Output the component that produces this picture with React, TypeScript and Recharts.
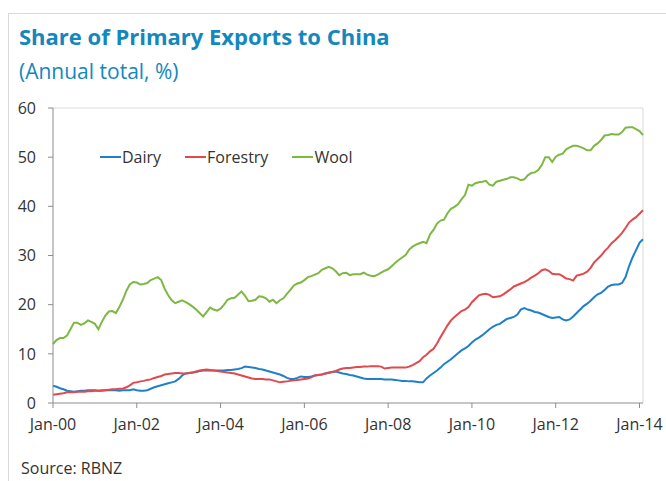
import React from "react";
import { LineChart, Line, XAxis, YAxis, ReferenceLine } from "recharts";

// Share of primary exports to China, annual total (%), monthly Jan-00 .. Feb-14
const dairy = [
  /* 2000 */ 3.5, 3.3, 3.0, 2.8, 2.5, 2.4, 2.3, 2.4, 2.5, 2.5, 2.6, 2.6,
  /* 2001 */ 2.6, 2.5, 2.5, 2.6, 2.6, 2.6, 2.6, 2.5, 2.6, 2.6, 2.6, 2.8,
  /* 2002 */ 2.6, 2.5, 2.5, 2.6, 2.9, 3.2, 3.4, 3.6, 3.8, 4.0, 4.2, 4.4,
  /* 2003 */ 4.9, 5.6, 6.0, 6.1, 6.2, 6.3, 6.5, 6.6, 6.6, 6.6, 6.6, 6.6,
  /* 2004 */ 6.6, 6.6, 6.7, 6.7, 6.8, 6.9, 7.1, 7.4, 7.3, 7.2, 7.1, 6.9,
  /* 2005 */ 6.8, 6.6, 6.4, 6.2, 6.0, 5.8, 5.5, 5.1, 4.9, 4.9, 5.1, 5.4,
  /* 2006 */ 5.3, 5.3, 5.4, 5.6, 5.7, 5.8, 6.0, 6.2, 6.3, 6.4, 6.2, 6.0,
  /* 2007 */ 5.9, 5.7, 5.6, 5.4, 5.2, 5.0, 4.9, 4.9, 4.9, 4.9, 4.9, 4.8,
  /* 2008 */ 4.8, 4.8, 4.7, 4.6, 4.5, 4.5, 4.4, 4.4, 4.3, 4.2, 4.2, 5.0,
  /* 2009 */ 5.6, 6.1, 6.6, 7.2, 7.9, 8.4, 8.9, 9.5, 10.1, 10.7, 11.1, 11.6,
  /* 2010 */ 12.3, 12.9, 13.3, 13.8, 14.4, 15.0, 15.5, 15.9, 16.1, 16.6, 17.1, 17.3,
  /* 2011 */ 17.5, 18.0, 19.0, 19.3, 19.0, 18.8, 18.5, 18.4, 18.1, 17.8, 17.5, 17.3,
  /* 2012 */ 17.4, 17.5, 17.0, 16.8, 17.0, 17.6, 18.3, 19.0, 19.7, 20.2, 20.8, 21.5,
  /* 2013 */ 22.1, 22.4, 23.0, 23.7, 24.0, 24.1, 24.1, 24.4, 25.6, 27.8, 29.6, 31.1,
  /* 2014 */ 32.6, 33.3,
];

const forestry = [
  /* 2000 */ 1.7, 1.8, 1.9, 2.0, 2.2, 2.2, 2.2, 2.3, 2.3, 2.3, 2.4, 2.4,
  /* 2001 */ 2.5, 2.5, 2.6, 2.6, 2.7, 2.8, 2.8, 2.9, 2.9, 3.2, 3.6, 4.1,
  /* 2002 */ 4.2, 4.4, 4.5, 4.7, 4.8, 5.1, 5.3, 5.5, 5.8, 5.9, 6.0, 6.1,
  /* 2003 */ 6.1, 6.0, 6.0, 6.1, 6.2, 6.4, 6.6, 6.7, 6.8, 6.7, 6.6, 6.5,
  /* 2004 */ 6.4, 6.3, 6.2, 6.1, 6.0, 5.8, 5.6, 5.4, 5.2, 5.0, 4.9, 4.9,
  /* 2005 */ 4.9, 4.8, 4.8, 4.6, 4.4, 4.2, 4.3, 4.4, 4.5, 4.6, 4.7, 4.8,
  /* 2006 */ 4.9, 5.0, 5.2, 5.6, 5.7, 5.8, 6.0, 6.1, 6.3, 6.5, 6.8, 7.0,
  /* 2007 */ 7.1, 7.1, 7.2, 7.3, 7.3, 7.4, 7.4, 7.5, 7.5, 7.5, 7.4, 7.0,
  /* 2008 */ 7.1, 7.2, 7.2, 7.2, 7.2, 7.2, 7.4, 7.7, 8.1, 8.5, 9.3, 9.8,
  /* 2009 */ 10.5, 11.0, 12.1, 13.4, 14.6, 15.8, 16.8, 17.5, 18.1, 18.7, 19.0, 19.5,
  /* 2010 */ 20.5, 21.2, 21.9, 22.1, 22.2, 22.0, 21.5, 21.6, 21.7, 22.1, 22.6, 23.1,
  /* 2011 */ 23.7, 24.0, 24.3, 24.6, 25.0, 25.5, 25.9, 26.4, 27.0, 27.2, 26.9, 26.3,
  /* 2012 */ 26.2, 26.2, 25.8, 25.3, 25.2, 24.9, 25.9, 26.1, 26.3, 26.7, 27.5, 28.6,
  /* 2013 */ 29.3, 30.0, 30.9, 31.6, 32.5, 33.1, 33.8, 34.6, 35.6, 36.7, 37.3, 37.8,
  /* 2014 */ 38.5, 39.2,
];

const wool = [
  /* 2000 */ 12.0, 12.8, 13.2, 13.2, 13.7, 15.0, 16.3, 16.3, 15.9, 16.2, 16.8, 16.5,
  /* 2001 */ 16.1, 15.0, 16.5, 17.8, 18.6, 18.7, 18.3, 19.5, 21.0, 22.8, 24.1, 24.6,
  /* 2002 */ 24.5, 24.1, 24.2, 24.4, 25.0, 25.3, 25.6, 25.0, 23.2, 21.9, 20.9, 20.3,
  /* 2003 */ 20.6, 20.9, 20.5, 20.1, 19.6, 19.0, 18.3, 17.6, 18.5, 19.4, 19.0, 18.8,
  /* 2004 */ 19.2, 20.0, 21.0, 21.3, 21.4, 22.0, 22.7, 21.8, 20.7, 20.8, 21.0, 21.7,
  /* 2005 */ 21.6, 21.3, 20.6, 21.0, 20.3, 20.9, 21.3, 22.2, 23.0, 23.9, 24.3, 24.5,
  /* 2006 */ 25.0, 25.6, 25.8, 26.1, 26.4, 27.1, 27.4, 27.7, 27.4, 26.8, 26.0, 26.4,
  /* 2007 */ 26.5, 26.0, 26.2, 26.2, 26.2, 26.5, 26.1, 25.9, 25.8, 26.1, 26.5, 26.9,
  /* 2008 */ 27.2, 27.8, 28.5, 29.1, 29.6, 30.1, 31.2, 31.8, 32.2, 32.5, 32.8, 32.5,
  /* 2009 */ 34.3, 35.2, 36.5, 37.1, 37.3, 38.6, 39.5, 39.9, 40.4, 41.4, 42.3, 44.4,
  /* 2010 */ 44.2, 44.7, 44.9, 45.0, 45.2, 44.4, 44.2, 45.0, 45.2, 45.4, 45.6, 45.9,
  /* 2011 */ 45.9, 45.7, 45.3, 45.5, 46.3, 46.8, 46.9, 47.4, 48.4, 50.0, 50.0, 49.0,
  /* 2012 */ 50.1, 50.5, 50.7, 51.6, 52.0, 52.3, 52.3, 52.1, 51.8, 51.4, 51.4, 52.3,
  /* 2013 */ 52.8, 53.5, 54.4, 54.5, 54.7, 54.6, 54.6, 55.1, 56.0, 56.1, 56.1, 55.7,
  /* 2014 */ 55.3, 54.5,
];

// month index (0 = Jan-00) of each x tick, and its label
const xTicks = [0, 24, 48, 72, 96, 120, 144, 168];
const xTickLabels = ["Jan-00", "Jan-02", "Jan-04", "Jan-06", "Jan-08", "Jan-10", "Jan-12", "Jan-14"];
const yTicks = [0, 10, 20, 30, 40, 50, 60];

const seriesInfo = [
  { key: "dairy", name: "Dairy", color: "#1f80c8" },
  { key: "forestry", name: "Forestry", color: "#e2494c" },
  { key: "wool", name: "Wool", color: "#7db843" },
];

const FONT = "'Open Sans', 'Noto Sans', sans-serif";
const TEXT = "#333333";
const BLUE_TITLE = "#1487bd";

const rows = wool.map((_, i) => ({
  m: i,
  dairy: dairy[i],
  forestry: forestry[i],
  wool: wool[i],
}));

// legenda em HTML por cima do gráfico (a Legend do Recharts rouba altura do plot)
function Legenda() {
  return (
    <div style={{ position: "absolute", left: 100, top: 146, display: "flex", alignItems: "center", fontFamily: FONT, fontSize: 16, color: TEXT, lineHeight: "22px" }}>
      {seriesInfo.map((s, i) => (
        <div key={s.key} style={{ display: "flex", alignItems: "center", marginRight: i < seriesInfo.length - 1 ? 24 : 0 }}>
          <span style={{ display: "inline-block", width: 21, height: 2, background: s.color, marginRight: 1 }} />
          <span>{s.name}</span>
        </div>
      ))}
    </div>
  );
}

export default function App() {
  return (
    <div style={{ position: "absolute", left: 0, top: 0, width: 666, height: 481, overflow: "hidden", background: "#fff" }}>
      {/* moldura */}
      <div style={{ position: "absolute", left: 8, top: 13, right: -2, bottom: -2, borderLeft: "1px solid #d9d9d9", borderTop: "1px solid #d9d9d9" }} />
      <div style={{ position: "absolute", left: 19, top: 21, fontFamily: FONT, fontWeight: 700, fontSize: 22, color: BLUE_TITLE, whiteSpace: "nowrap", lineHeight: "30px" }}>
        Share of Primary Exports to China
      </div>
      <div style={{ position: "absolute", left: 19, top: 57, fontFamily: FONT, fontSize: 21, color: BLUE_TITLE, whiteSpace: "nowrap", lineHeight: "28px" }}>
        (Annual total, %)
      </div>
      <div style={{ position: "absolute", left: 0, top: 0 }}>
        <LineChart width={666} height={481} data={rows} margin={{ top: 108, right: 23, bottom: 48, left: 13 }}>
          <ReferenceLine y={60} stroke="#d9d9d9" strokeWidth={1} />
          <ReferenceLine x={169} stroke="#d9d9d9" strokeWidth={1} />
          <XAxis
            dataKey="m"
            type="number"
            domain={[0, 169]}
            ticks={xTicks}
            tickFormatter={(v: number) => xTickLabels[xTicks.indexOf(v)] ?? ""}
            interval={0}
            height={30}
            tickSize={5}
            tickMargin={11}
            stroke="#8c8c8c"
            tick={{ fill: TEXT, fontSize: 16, fontFamily: FONT }}
          />
          <YAxis
            type="number"
            domain={[0, 60]}
            ticks={yTicks}
            interval={0}
            width={40}
            tickSize={5}
            tickMargin={12}
            stroke="#8c8c8c"
            tick={{ fill: TEXT, fontSize: 16, fontFamily: FONT }}
          />
          {seriesInfo.map((s) => (
            <Line
              key={s.key}
              type="linear"
              dataKey={s.key}
              name={s.name}
              stroke={s.color}
              strokeWidth={2}
              dot={false}
              activeDot={false}
              isAnimationActive={false}
            />
          ))}
        </LineChart>
      </div>
      <Legenda />
      <div style={{ position: "absolute", left: 21, top: 459, fontFamily: FONT, fontSize: 16, color: TEXT, whiteSpace: "nowrap", lineHeight: "18px" }}>
        Source: RBNZ
      </div>
    </div>
  );
}
